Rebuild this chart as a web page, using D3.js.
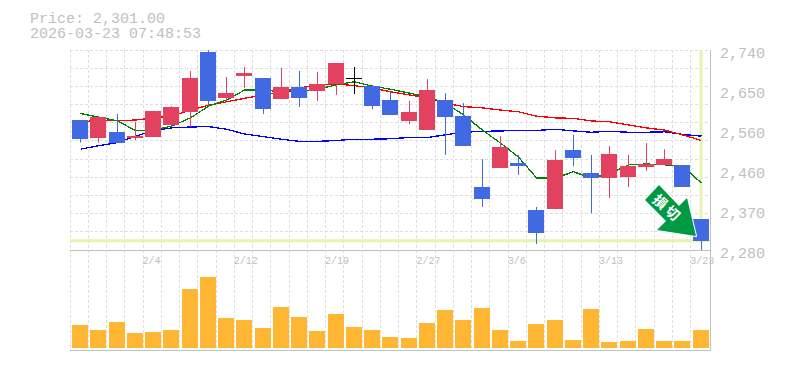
<!DOCTYPE html>
<html>
<head>
<meta charset="utf-8">
<title>Price chart</title>
<script src="https://cdn.jsdelivr.net/npm/d3@7"></script>
<style>
    html, body { margin: 0; background: #fff; }
    svg { display: block; }
    text { font-family: "Liberation Mono", monospace; fill: #c0c0c0; }
</style>
</head>
<body>
<script>
const dates = ['1/29', '1/30', '2/2', '2/3', '2/4', '2/5', '2/6', '2/9', '2/10', '2/12', '2/13', '2/16',
    '2/17', '2/18', '2/19', '2/20', '2/24', '2/25', '2/26', '2/27', '3/2', '3/3', '3/4', '3/5', '3/6',
    '3/9', '3/10', '3/11', '3/12', '3/13', '3/16', '3/17', '3/18', '3/19', '3/23']

const opens = [2580, 2539, 2553, 2539, 2541, 2569, 2599, 2737, 2631, 2681, 2677, 2628,
    2656, 2647, 2663, 2676, 2658, 2626, 2578, 2557, 2626, 2589, 2426, 2470, 2481,
    2373, 2375, 2511, 2458, 2447, 2449, 2472, 2477, 2477, 2352]
const highs = [2580, 2587, 2594, 2576, 2601, 2612, 2693, 2741, 2679, 2702, 2677, 2700,
    2693, 2691, 2711, 2702, 2658, 2647, 2624, 2674, 2642, 2619, 2490, 2543, 2500,
    2380, 2511, 2546, 2500, 2520, 2500, 2527, 2513, 2477, 2352]
const lows = [2528, 2528, 2527, 2534, 2541, 2569, 2564, 2612, 2624, 2654, 2594, 2628,
    2610, 2624, 2638, 2640, 2605, 2592, 2571, 2557, 2500, 2520, 2380, 2470, 2454,
    2295, 2375, 2474, 2366, 2401, 2426, 2463, 2477, 2426, 2279]
const closes = [2536, 2587, 2527, 2543, 2601, 2610, 2677, 2624, 2642, 2688, 2605, 2656,
    2631, 2663, 2711, 2676, 2612, 2592, 2599, 2649, 2587, 2520, 2399, 2518, 2474,
    2320, 2488, 2493, 2447, 2502, 2474, 2479, 2490, 2426, 2301]
const volumes = [230, 180, 260, 150, 160, 180, 590, 710, 300, 280, 200, 410,
    310, 170, 340, 210, 180, 110, 100, 250, 380, 280, 400, 180, 70,
    240, 280, 80, 390, 60, 70, 190, 70, 70, 180]

const maShort = [2595, 2587, 2578, 2556, 2557, 2566, 2585, 2612, 2626, 2649, 2649, 2645,
    2645, 2651, 2661, 2668, 2658, 2651, 2642, 2633, 2619, 2592, 2557, 2527, 2495,
    2447, 2447, 2461, 2447, 2456, 2477, 2479, 2477, 2474, 2435]
const maMiddle = [2577, 2578, 2579, 2580, 2585, 2589, 2603, 2614, 2622, 2630, 2638, 2645,
    2654, 2661, 2663, 2659, 2654, 2645, 2638, 2631, 2619, 2611, 2608, 2603, 2599,
    2589, 2585, 2584, 2578, 2576, 2569, 2562, 2557, 2546, 2533]
const maLong = [2513, 2521, 2528, 2543, 2556, 2562, 2564, 2565, 2559, 2548, 2542, 2536,
    2531, 2531, 2533, 2536, 2536, 2537, 2540, 2540, 2546, 2552, 2554, 2555, 2556,
    2556, 2559, 2555, 2552, 2554, 2552, 2552, 2553, 2547, 2543]

const priceTicks = [2740, 2648, 2556, 2464, 2372, 2280]
const dateTicks = ['2/4', '2/12', '2/19', '2/27', '3/6', '3/13', '3/23']
const timestamp = '2026-03-23 07:48:53'
const signalLabel = '損切'

const COLOR_UP = '#e2415f'
const COLOR_DOWN = '#4169e1'
const COLOR_VOLUME = '#ffb733'
const COLOR_AXIS = '#c0c0c0'
const COLOR_GRID = '#dedede'
const COLOR_MARK = '#e4f5ae'
const COLOR_SIGNAL = '#009944'

const width = 785
const height = 370
const leftX = 70
const rightX = 709
const topY = 50
const priceBottomY = 250
const volumeBottomY = 350
const bodyWidth = 16

const svg = d3.select('body').append('svg')
    .attr('width', width)
    .attr('height', height)

const scaleX = d3.scaleBand()
    .domain(dates)
    .range([leftX, rightX])
const scalePrice = d3.scaleLinear()
    .domain([2280, 2740])
    .range([priceBottomY + 0.5, topY + 0.5])
const scaleVolume = d3.scaleLinear()
    .domain([0, 710])
    .range([348, 277])
const scaleRow = d3.scaleLinear()
    .domain([0, 11])
    .range([topY, priceBottomY])

// candle body left edge, everything else hangs off this
const bodyX = d => Math.round(scaleX(d) + 2)
const centerX = i => bodyX(dates[i]) + bodyWidth / 2 + 0.5

// grid
const grid = svg.append('g')
    .attr('stroke', COLOR_GRID)
    .attr('stroke-dasharray', '3,2')
grid.selectAll('line.row')
    .data(d3.range(11))
    .join('line')
    .attr('class', 'row')
    .attr('x1', leftX)
    .attr('x2', rightX + 1)
    .attr('y1', d => Math.floor(scaleRow(d)) + 0.5)
    .attr('y2', d => Math.floor(scaleRow(d)) + 0.5)
grid.selectAll('line.col')
    .data(dates)
    .join('line')
    .attr('class', 'col')
    .attr('x1', d => Math.floor(scaleX(d)) + 0.5)
    .attr('x2', d => Math.floor(scaleX(d)) + 0.5)
    .attr('y1', topY)
    .attr('y2', volumeBottomY)

// current date / price markers
const last = dates.length - 1
svg.append('line')
    .attr('x1', leftX)
    .attr('x2', rightX + 1)
    .attr('y1', scalePrice(closes[last]) - 0.5)
    .attr('y2', scalePrice(closes[last]) - 0.5)
    .attr('stroke', COLOR_MARK)
    .attr('stroke-width', 3)
svg.append('line')
    .attr('x1', centerX(last) - 0.5)
    .attr('x2', centerX(last) - 0.5)
    .attr('y1', topY)
    .attr('y2', scalePrice(closes[last]))
    .attr('stroke', COLOR_MARK)
    .attr('stroke-width', 3)

// moving averages
const lineFn = d3.line()
    .x((d, i) => centerX(i))
    .y(d => scalePrice(d))
svg.selectAll('path.ma')
    .data([[maLong, '#0000ff'], [maMiddle, '#ff0000'], [maShort, '#008000']])
    .join('path')
    .attr('class', 'ma')
    .attr('d', d => lineFn(d[0]))
    .attr('fill', 'none')
    .attr('stroke', d => d[1])
    .attr('stroke-width', 1.3)
    .attr('shape-rendering', 'crispEdges')

// candles
const candleColor = i => closes[i] === opens[i] ? '#000' : (closes[i] > opens[i] ? COLOR_UP : COLOR_DOWN)
const candles = svg.selectAll('g.candle')
    .data(dates)
    .join('g')
    .attr('class', 'candle')
candles.append('line')
    .attr('x1', (d, i) => centerX(i))
    .attr('x2', (d, i) => centerX(i))
    .attr('y1', (d, i) => scalePrice(highs[i]))
    .attr('y2', (d, i) => scalePrice(lows[i]))
    .attr('stroke', (d, i) => candleColor(i))
candles.filter((d, i) => closes[i] !== opens[i])
    .append('rect')
    .attr('x', d => bodyX(d))
    .attr('width', bodyWidth)
    .attr('y', d => Math.round(scalePrice(Math.max(opens[dates.indexOf(d)], closes[dates.indexOf(d)]))))
    .attr('height', d => {
        const i = dates.indexOf(d)
        return Math.abs(scalePrice(opens[i]) - scalePrice(closes[i]))
    })
    .attr('fill', d => candleColor(dates.indexOf(d)))
    .attr('shape-rendering', 'crispEdges')
candles.filter((d, i) => closes[i] === opens[i])
    .append('line')
    .attr('x1', d => bodyX(d))
    .attr('x2', d => bodyX(d) + bodyWidth)
    .attr('y1', d => Math.floor(scalePrice(closes[dates.indexOf(d)])) + 0.5)
    .attr('y2', d => Math.floor(scalePrice(closes[dates.indexOf(d)])) + 0.5)
    .attr('stroke', '#000')

// volume
svg.selectAll('rect.volume')
    .data(volumes)
    .join('rect')
    .attr('class', 'volume')
    .attr('x', (d, i) => bodyX(dates[i]))
    .attr('width', bodyWidth)
    .attr('y', d => scaleVolume(d))
    .attr('height', d => scaleVolume(0) - scaleVolume(d))
    .attr('fill', COLOR_VOLUME)

// axes
const axisPriceFn = d3.axisRight()
    .scale(scalePrice)
    .tickValues(priceTicks)
    .tickFormat(d => d3.format(',')(Math.round(d / 10) * 10))
    .tickSize(0)
    .tickPadding(10)
    .offset(0)
const axisPrice = svg.append('g')
    .attr('transform', `translate(${rightX + 1}, 0)`)
    .call(axisPriceFn)
axisPrice.select('.domain').remove()
axisPrice.selectAll('text')
    .attr('dy', '0.5em')
    .style('font-size', '15px')

const axisDateFn = d3.axisBottom()
    .scale(scaleX)
    .tickValues(dateTicks)
    .tickSize(0)
    .tickPadding(7)
    .offset(0)
const axisDate = svg.append('g')
    .attr('transform', `translate(0, ${priceBottomY})`)
    .call(axisDateFn)
axisDate.select('.domain').remove()
axisDate.selectAll('text')
    .attr('text-anchor', 'start')
    .attr('x', -scaleX.bandwidth() / 2 - 0.5)
    .style('font-size', '10px')

svg.selectAll('line.frame')
    .data([
        [leftX, priceBottomY + 0.5, rightX + 1.5, priceBottomY + 0.5],
        [leftX, volumeBottomY + 0.5, rightX + 1.5, volumeBottomY + 0.5],
        [rightX + 1.5, topY, rightX + 1.5, volumeBottomY + 1]
    ])
    .join('line')
    .attr('class', 'frame')
    .attr('x1', d => d[0])
    .attr('y1', d => d[1])
    .attr('x2', d => d[2])
    .attr('y2', d => d[3])
    .attr('stroke', COLOR_AXIS)

// signal arrow
const signal = svg.append('g')
signal.append('polygon')
    .attr('points', '659,185 645,200 666,221 657,230 696,236 687,198 679,206')
    .attr('fill', COLOR_SIGNAL)
    .attr('stroke', '#fff')
    .attr('stroke-width', 2)
    .attr('stroke-linejoin', 'round')
    .attr('paint-order', 'stroke')
signal.append('text')
    .attr('transform', 'translate(667.5, 208.5) rotate(42)')
    .attr('text-anchor', 'middle')
    .attr('dy', '0.36em')
    .attr('letter-spacing', 3)
    .style('font-family', '"Noto Sans CJK JP"')
    .style('font-size', '14px')
    .style('font-weight', 700)
    .style('fill', '#fff')
    .text(signalLabel)

// header, two lines sit tight like the original
svg.append('text')
    .attr('x', 30)
    .attr('y', 23)
    .style('font-size', '15px')
    .text(`Price: ${d3.format(',.2f')(closes[last])}`)
svg.append('text')
    .attr('x', 30)
    .attr('y', 38)
    .style('font-size', '15px')
    .text(timestamp)
</script>
</body>
</html>
